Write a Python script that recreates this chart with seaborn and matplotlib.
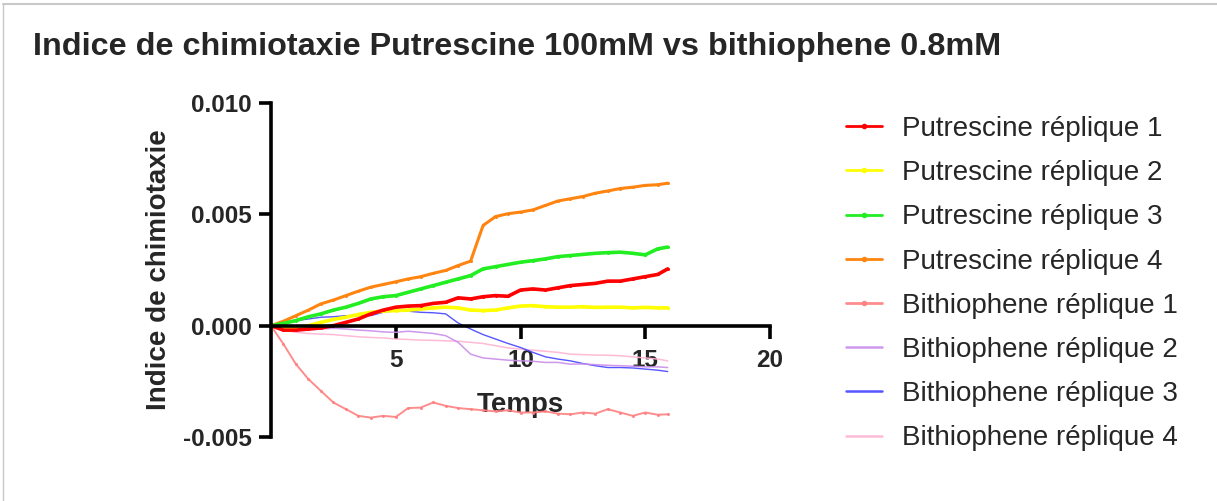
import matplotlib
matplotlib.use("Agg")
import matplotlib.pyplot as plt
from matplotlib.lines import Line2D
import seaborn as sns
import pandas as pd

# ---------------- data ----------------
temps = [0, 0.5, 1, 1.5, 2, 2.5, 3, 3.5, 4, 4.5, 5, 5.5, 6, 6.5, 7, 7.5, 8,
         8.5, 9, 9.5, 10, 10.5, 11, 11.5, 12, 12.5, 13, 13.5, 14, 14.5, 15, 15.5, 15.9]

putrescine_1 = [0, -0.0002, -0.0002, -0.00015, -0.0001, 0.0, 0.00015, 0.0003, 0.00053, 0.0007,
                0.00083, 0.00088, 0.0009, 0.001, 0.00105, 0.00125, 0.0012, 0.0013, 0.00135, 0.00132,
                0.0016, 0.00165, 0.0016, 0.0017, 0.0018, 0.00185, 0.0019, 0.002, 0.002, 0.0021,
                0.0022, 0.0023, 0.00255]
putrescine_2 = [0, -0.0001, -0.00008, 0.0, 0.00015, 0.00028, 0.00038, 0.0005, 0.0006, 0.00065,
                0.00068, 0.0007, 0.00075, 0.0008, 0.00083, 0.0008, 0.0007, 0.00068, 0.0007, 0.0008,
                0.00088, 0.0009, 0.00085, 0.00083, 0.00083, 0.00085, 0.00082, 0.00083, 0.00083, 0.0008,
                0.00082, 0.0008, 0.0008]
putrescine_3 = [0, 0.0001, 0.00023, 0.0004, 0.00053, 0.0007, 0.00083, 0.001, 0.0012, 0.0013,
                0.00135, 0.0015, 0.00165, 0.0018, 0.00195, 0.0021, 0.00225, 0.00255, 0.00265, 0.00275,
                0.00285, 0.00292, 0.003, 0.0031, 0.00315, 0.0032, 0.00325, 0.00328, 0.0033, 0.00325,
                0.00318, 0.00345, 0.00353]
putrescine_4 = [0, 0.0002, 0.00045, 0.0007, 0.00098, 0.00115, 0.00135, 0.00155, 0.00173, 0.00185,
                0.00197, 0.0021, 0.0022, 0.00235, 0.00248, 0.0027, 0.0029, 0.0045, 0.0049, 0.00503,
                0.0051, 0.0052, 0.0054, 0.0056, 0.0057, 0.0058, 0.00595, 0.00605, 0.00616, 0.00622,
                0.0063, 0.00633, 0.0064]
bithiophene_1 = [0, -0.00083, -0.00173, -0.0024, -0.00293, -0.00345, -0.00375, -0.00405, -0.00413, -0.00405,
                 -0.0041, -0.0037, -0.00368, -0.00345, -0.0036, -0.0037, -0.00375, -0.0038, -0.00385, -0.0038,
                 -0.0039, -0.0039, -0.00385, -0.00395, -0.00398, -0.0039, -0.00395, -0.00375, -0.0039, -0.00405,
                 -0.0039, -0.004, -0.00398]
bithiophene_2 = [0, -0.0002, -0.00023, -0.0002, -0.00015, -0.00012, -0.00015, -0.0002, -0.00023, -0.00028,
                 -0.0003, -0.00025, -0.0003, -0.00035, -0.00045, -0.00075, -0.00128, -0.00145, -0.0015, -0.00155,
                 -0.00158, -0.0016, -0.00165, -0.00165, -0.00173, -0.00172, -0.00175, -0.00178, -0.0018, -0.00182,
                 -0.00185, -0.00185, -0.00188]
bithiophene_3 = [0, 0.00015, 0.00023, 0.0003, 0.00038, 0.0004, 0.00045, 0.00045, 0.00045, 0.0006,
                 0.00068, 0.00065, 0.0006, 0.00058, 0.00053, 0.00012, -0.00015, -0.0004, -0.0006, -0.0008,
                 -0.00098, -0.0012, -0.0014, -0.0015, -0.00158, -0.0017, -0.0018, -0.00188, -0.00188, -0.0019,
                 -0.00195, -0.002, -0.00206]
bithiophene_4 = [0, -0.0002, -0.0003, -0.00035, -0.00038, -0.0004, -0.00045, -0.0005, -0.00053, -0.00055,
                 -0.0006, -0.00062, -0.00065, -0.00066, -0.00068, -0.0007, -0.00075, -0.0008, -0.0009, -0.001,
                 -0.00105, -0.0011, -0.00115, -0.0012, -0.00128, -0.0013, -0.00132, -0.00133, -0.00135, -0.0014,
                 -0.00145, -0.0015, -0.00158]

series_names = ["Putrescine réplique 1", "Putrescine réplique 2", "Putrescine réplique 3",
                "Putrescine réplique 4", "Bithiophene réplique 1", "Bithiophene réplique 2",
                "Bithiophene réplique 3", "Bithiophene réplique 4"]
series_values = [putrescine_1, putrescine_2, putrescine_3, putrescine_4,
                 bithiophene_1, bithiophene_2, bithiophene_3, bithiophene_4]

x_ticks = [5, 10, 15, 20]
y_ticks = [-0.005, 0.000, 0.005, 0.010]
y_tick_labels = ["-0.005", "0.000", "0.005", "0.010"]

# ---------------- styles ----------------
colors = ["#FF0000", "#FFFF00", "#22EE22", "#FF8410",
          "#FF8080", "#C98DEB", "#4444FF", "#FFB3D1"]
widths = [2.6, 2.6, 2.6, 2.2, 1.4, 1.1, 1.0, 1.1]
alphas = [1, 1, 1, 1, 0.9, 0.9, 0.9, 0.9]
has_marker = [True, True, True, True, True, False, False, False]

sns.set_style("ticks")
plt.rcParams["font.family"] = ["Liberation Sans", "DejaVu Sans"]

fig = plt.figure(figsize=(12.17, 5.01), dpi=100)
ax = fig.add_axes([271 / 1217, 1 - 437 / 501, 499 / 1217, 334 / 501])

df = pd.DataFrame({
    "Temps": [t for _ in series_names for t in temps],
    "Indice": [v for vals in series_values for v in vals],
    "Serie": [n for n, vals in zip(series_names, series_values) for _ in vals],
})

# draw in reverse so Putrescine lines lie on top
for i in reversed(range(len(series_names))):
    sub = df[df["Serie"] == series_names[i]]
    sns.lineplot(data=sub, x="Temps", y="Indice", ax=ax, color=colors[i],
                 linewidth=widths[i], alpha=alphas[i], legend=False,
                 marker="o" if has_marker[i] else None, markersize=2.2,
                 markeredgewidth=0)

ax.set_xlim(0, 20)
ax.set_ylim(-0.005, 0.010)
ax.spines["bottom"].set_position(("data", 0))
ax.spines["top"].set_visible(False)
ax.spines["right"].set_visible(False)
for s in ("left", "bottom"):
    ax.spines[s].set_linewidth(2.6)
    ax.spines[s].set_color("black")

ax.set_xticks(x_ticks)
ax.set_xticklabels([str(v) for v in x_ticks], fontsize=17.5, fontweight="bold")
ax.set_yticks(y_ticks)
ax.set_yticklabels(y_tick_labels, fontsize=17.5, fontweight="bold")
ax.tick_params(axis="both", length=9, width=2.6, color="black", direction="out")
ax.tick_params(axis="x", pad=8)
ax.tick_params(axis="y", pad=5)

ax.set_xlabel("Temps", fontsize=20, fontweight="bold", labelpad=14)
ax.set_ylabel("Indice de chimiotaxie", fontsize=20, fontweight="bold", labelpad=8)

fig.text(33 / 1217, 1 - 47 / 501,
         "Indice de chimiotaxie Putrescine 100mM vs bithiophene 0.8mM",
         fontsize=23.3, fontweight="bold", ha="left", va="center")

handles = []
for i, name in enumerate(series_names):
    handles.append(Line2D([0], [0], color=colors[i], lw=2.0 if i < 5 else 1.8,
                          alpha=alphas[i], marker="o" if has_marker[i] else None,
                          markersize=4, markeredgewidth=0, label=name))
fig.legend(handles=handles, loc="upper left",
           bbox_to_anchor=(846 / 1217, 1 - 116 / 501), frameon=False,
           fontsize=20, handlelength=1.3, handletextpad=0.72,
           labelspacing=0.655, borderpad=0, borderaxespad=0)

# thin grey frame of the screenshot (top and left edges)
fig.add_artist(Line2D([3 / 1217, 1], [1 - 4 / 501, 1 - 4 / 501],
                      transform=fig.transFigure, color="#C8C8C8", lw=1.5))
fig.add_artist(Line2D([3 / 1217, 3 / 1217], [0, 1 - 4 / 501],
                      transform=fig.transFigure, color="#C8C8C8", lw=1.0))

fig.savefig("out.png", dpi=100)
